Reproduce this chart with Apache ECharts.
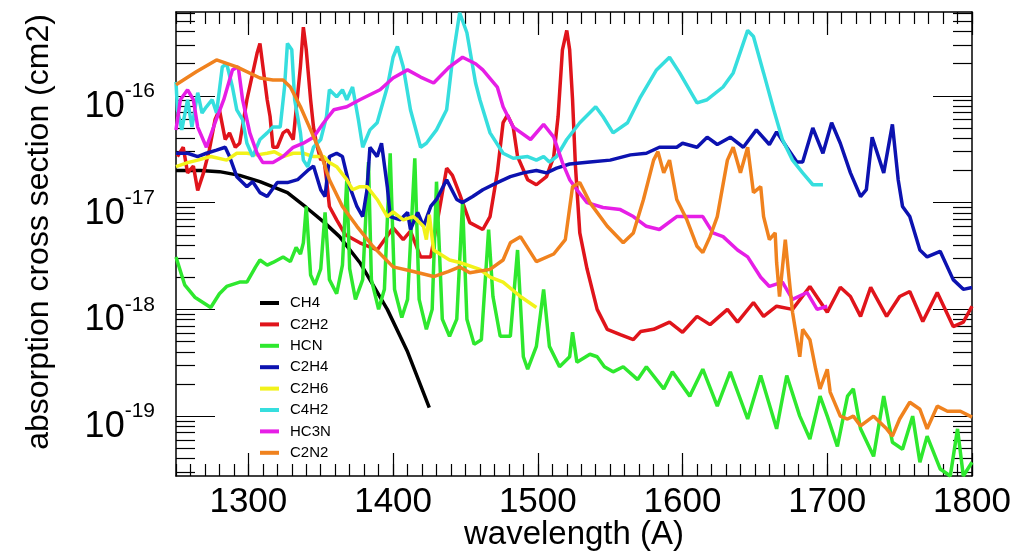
<!DOCTYPE html>
<html>
<head>
<meta charset="utf-8">
<script src="https://cdn.jsdelivr.net/npm/echarts@6.0.0/dist/echarts.min.js"></script>
<style>
  html, body { margin: 0; padding: 0; background: #fff; }
  #chart { width: 1019px; height: 555px; }
</style>
</head>
<body>
<div id="chart"></div>
<script>
// absorption cross sections, [wavelength (A), sigma (cm2)]
const ch4 = [[1250,2.0e-17],[1267,2.0e-17],[1280,1.95e-17],[1294,1.8e-17],[1308,1.57e-17],[1327,1.24e-17],[1340,9.0e-18],[1352,6.6e-18],[1363,4.8e-18],[1377,2.75e-18],[1396,1.0e-18],[1410,4.0e-19],[1425,1.2e-19]];

const c2h2 = [[1251,2.7e-17],[1255,3.3e-17],[1258,1.9e-17],[1262,2.2e-17],[1265,1.3e-17],[1269,1.9e-17],[1273,3.1e-17],[1277,6.0e-17],[1280,7.4e-17],[1284,3.9e-17],[1287,4.5e-17],[1291,3.3e-17],[1294,3.6e-17],[1299,9.2e-17],[1306,2.5e-16],[1308,3.1e-16],[1310,1.9e-16],[1313,9.2e-17],[1315,6.4e-17],[1317,3.3e-17],[1320,3.3e-17],[1324,4.5e-17],[1327,4.8e-17],[1331,3.9e-17],[1336,1.9e-16],[1338,4.4e-16],[1340,2.7e-16],[1343,9.2e-17],[1345,5.1e-17],[1347,3.6e-17],[1350,2.5e-17],[1352,2.7e-17],[1354,1.64e-17],[1356,9.2e-18],[1361,6.9e-18],[1367,5.0e-18],[1377,4.2e-18],[1389,3.6e-18],[1400,5.8e-18],[1407,4.5e-18],[1412,5.4e-18],[1419,3.1e-18],[1426,3.1e-18],[1432,8.6e-18],[1437,2.1e-17],[1441,1.8e-17],[1446,1.2e-17],[1453,6.5e-18],[1462,5.6e-18],[1467,7.4e-18],[1472,1.9e-17],[1476,5.6e-17],[1479,6.6e-17],[1483,5.1e-17],[1486,2.7e-17],[1493,1.64e-17],[1499,1.47e-17],[1506,1.75e-17],[1511,2.7e-17],[1514,6.4e-17],[1517,2.7e-16],[1520,4.1e-16],[1522,2.7e-16],[1524,9.2e-17],[1526,2.2e-17],[1529,5.2e-18],[1534,2.4e-18],[1541,1.0e-18],[1548,6.5e-19],[1557,5.8e-19],[1566,5.2e-19],[1571,6.2e-19],[1580,6.5e-19],[1591,7.6e-19],[1600,6.1e-19],[1610,8.6e-19],[1619,7.2e-19],[1631,1.0e-18],[1638,7.6e-19],[1649,1.16e-18],[1656,8.6e-19],[1665,1.07e-18],[1676,1.0e-18],[1688,1.64e-18],[1700,9.4e-19],[1709,1.61e-18],[1716,1.32e-18],[1723,8.6e-19],[1730,1.61e-18],[1741,8.6e-19],[1750,1.32e-18],[1757,1.47e-18],[1766,7.7e-19],[1776,1.44e-18],[1787,6.9e-19],[1794,7.6e-19],[1800,1.07e-18]];

const hcn = [[1250,3.1e-18],[1256,1.7e-18],[1263,1.3e-18],[1274,1.04e-18],[1280,1.4e-18],[1285,1.64e-18],[1294,1.8e-18],[1299,1.8e-18],[1305,2.5e-18],[1308,2.9e-18],[1313,2.6e-18],[1317,2.75e-18],[1324,3.1e-18],[1329,2.8e-18],[1333,3.8e-18],[1336,3.3e-18],[1338,4.2e-18],[1340,9.2e-18],[1343,2.1e-18],[1346,1.7e-18],[1350,2.4e-18],[1353,8.1e-18],[1356,1.9e-18],[1361,1.4e-18],[1365,2.6e-18],[1368,1.64e-17],[1370,2.4e-18],[1374,1.24e-18],[1379,1.9e-18],[1383,2.4e-17],[1385,1.9e-18],[1390,1.0e-18],[1394,1.54e-18],[1398,2.9e-17],[1401,1.54e-18],[1406,8.4e-19],[1410,1.24e-18],[1415,2.6e-17],[1418,1.24e-18],[1423,6.5e-19],[1427,1.0e-18],[1430,1.57e-17],[1434,8.1e-19],[1439,5.6e-19],[1444,8.1e-19],[1448,1.0e-17],[1451,8.1e-19],[1456,4.7e-19],[1461,5.2e-19],[1466,5.6e-18],[1469,1.32e-18],[1474,5.6e-19],[1481,5.6e-19],[1486,3.6e-18],[1490,3.6e-19],[1493,2.75e-19],[1499,4.5e-19],[1504,1.54e-18],[1508,4.5e-19],[1515,2.9e-19],[1522,3.6e-19],[1524,6.1e-19],[1527,3.2e-19],[1536,3.8e-19],[1541,3.6e-19],[1546,2.9e-19],[1552,2.6e-19],[1559,2.9e-19],[1569,2.2e-19],[1575,2.9e-19],[1587,1.8e-19],[1593,2.6e-19],[1605,1.54e-19],[1614,2.75e-19],[1624,1.24e-19],[1633,2.6e-19],[1645,9.4e-20],[1654,2.4e-19],[1665,7.6e-20],[1672,2.4e-19],[1681,1.0e-19],[1688,6.1e-20],[1695,1.54e-19],[1700,1.0e-19],[1707,5.2e-20],[1714,1.54e-19],[1718,1.8e-19],[1723,7.6e-20],[1732,4.2e-20],[1739,1.54e-19],[1745,5.7e-20],[1752,4.9e-20],[1759,1.0e-19],[1764,3.7e-20],[1769,6.5e-20],[1778,3.2e-20],[1785,2.75e-20],[1790,7.6e-20],[1794,2.75e-20],[1800,3.7e-20]];

const c2h4 = [[1250,2.9e-17],[1258,2.9e-17],[1265,2.7e-17],[1271,2.9e-17],[1278,3.1e-17],[1284,3.3e-17],[1287,2.7e-17],[1292,1.75e-17],[1299,1.41e-17],[1303,1.57e-17],[1308,1.24e-17],[1313,1.14e-17],[1320,1.54e-17],[1327,1.54e-17],[1334,1.64e-17],[1341,2.0e-17],[1345,2.2e-17],[1350,1.32e-17],[1353,1.14e-17],[1356,2.7e-17],[1361,2.9e-17],[1365,2.7e-17],[1370,1.41e-17],[1375,9.2e-18],[1379,7.4e-18],[1382,1.32e-17],[1384,3.3e-17],[1389,2.7e-17],[1392,3.6e-17],[1396,1.41e-17],[1398,7.4e-18],[1405,6.9e-18],[1410,8.1e-18],[1412,5.6e-18],[1417,8.1e-18],[1421,6.0e-18],[1426,9.2e-18],[1430,1.07e-17],[1437,1.64e-17],[1444,1.07e-17],[1448,1.0e-17],[1455,1.14e-17],[1462,1.32e-17],[1472,1.54e-17],[1481,1.75e-17],[1490,1.9e-17],[1499,2.0e-17],[1506,1.9e-17],[1513,2.1e-17],[1522,2.3e-17],[1536,2.4e-17],[1550,2.5e-17],[1564,2.8e-17],[1575,2.9e-17],[1584,3.3e-17],[1596,3.3e-17],[1600,3.6e-17],[1610,3.3e-17],[1617,4.1e-17],[1624,3.5e-17],[1633,4.1e-17],[1642,3.3e-17],[1651,4.8e-17],[1660,3.5e-17],[1665,4.6e-17],[1672,3.3e-17],[1679,2.4e-17],[1683,2.4e-17],[1690,5.0e-17],[1697,2.9e-17],[1703,5.6e-17],[1709,3.6e-17],[1716,1.9e-17],[1723,1.14e-17],[1727,1.32e-17],[1731,4.1e-17],[1739,1.9e-17],[1745,5.4e-17],[1749,1.64e-17],[1752,9.2e-18],[1757,7.4e-18],[1764,3.6e-18],[1769,3.1e-18],[1778,3.5e-18],[1787,1.9e-18],[1794,1.54e-18],[1800,1.6e-18]];

const c2h6 = [[1250,2.17e-17],[1258,2.37e-17],[1265,2.5e-17],[1274,2.7e-17],[1285,2.5e-17],[1292,2.9e-17],[1299,2.9e-17],[1306,2.8e-17],[1313,2.9e-17],[1318,3.0e-17],[1324,2.7e-17],[1331,2.9e-17],[1338,2.9e-17],[1345,2.7e-17],[1352,2.7e-17],[1356,2.37e-17],[1361,2.17e-17],[1368,1.64e-17],[1372,1.32e-17],[1377,1.41e-17],[1382,1.41e-17],[1389,1.07e-17],[1396,7.4e-18],[1400,8.2e-18],[1407,6.9e-18],[1414,7.4e-18],[1421,6.0e-18],[1423,4.5e-18],[1425,7.7e-18],[1428,3.6e-18],[1439,2.9e-18],[1446,2.75e-18],[1460,2.37e-18],[1467,2.0e-18],[1476,1.8e-18],[1488,1.32e-18],[1499,1.04e-18]];

const c4h2 = [[1250,1.35e-16],[1251,7.4e-17],[1254,4.8e-17],[1258,9.2e-17],[1261,5.1e-17],[1265,1.07e-16],[1268,6.9e-17],[1271,7.9e-17],[1275,9.2e-17],[1278,6.9e-17],[1282,1.87e-16],[1285,2.0e-16],[1289,1.21e-16],[1292,7.4e-17],[1296,6.0e-17],[1299,3.6e-17],[1303,2.7e-17],[1308,3.9e-17],[1313,4.5e-17],[1317,5.1e-17],[1322,5.1e-17],[1325,1.21e-16],[1327,3.1e-16],[1330,2.7e-16],[1332,9.2e-17],[1336,4.5e-17],[1338,2.5e-17],[1341,2.17e-17],[1345,3.3e-17],[1350,3.9e-17],[1354,6.4e-17],[1356,1.14e-16],[1361,9.8e-17],[1365,1.14e-16],[1368,9.2e-17],[1372,1.21e-16],[1376,6.0e-17],[1379,3.3e-17],[1384,4.8e-17],[1389,5.6e-17],[1396,1.21e-16],[1400,2.3e-16],[1403,2.9e-16],[1407,1.87e-16],[1412,7.4e-17],[1419,3.3e-17],[1423,3.6e-17],[1430,4.8e-17],[1437,7.4e-17],[1441,2.17e-16],[1446,6.0e-16],[1451,3.9e-16],[1457,1.32e-16],[1460,9.2e-17],[1467,4.5e-17],[1476,2.9e-17],[1483,2.6e-17],[1493,2.7e-17],[1499,2.5e-17],[1504,2.7e-17],[1508,2.4e-17],[1513,2.7e-17],[1520,3.9e-17],[1529,5.6e-17],[1540,7.9e-17],[1545,6.4e-17],[1552,4.5e-17],[1562,5.6e-17],[1571,9.8e-17],[1582,1.75e-16],[1591,2.3e-16],[1598,1.64e-16],[1610,8.6e-17],[1617,9.2e-17],[1628,1.21e-16],[1635,1.64e-16],[1645,4.1e-16],[1649,3.6e-16],[1656,1.64e-16],[1663,7.4e-17],[1669,3.9e-17],[1676,2.5e-17],[1683,1.9e-17],[1690,1.47e-17],[1697,1.47e-17]];

const hc3n = [[1250,4.8e-17],[1253,9.2e-17],[1258,1.14e-16],[1262,9.2e-17],[1265,5.1e-17],[1271,3.3e-17],[1277,5.6e-17],[1283,9.2e-17],[1289,1.75e-16],[1293,1.87e-16],[1296,9.2e-17],[1301,4.5e-17],[1306,2.9e-17],[1310,2.37e-17],[1317,2.37e-17],[1324,2.7e-17],[1331,3.3e-17],[1338,3.6e-17],[1345,4.1e-17],[1352,5.6e-17],[1359,7.4e-17],[1368,7.9e-17],[1377,9.2e-17],[1391,1.14e-16],[1400,1.47e-16],[1410,1.75e-16],[1419,1.5e-16],[1428,1.32e-16],[1439,1.87e-16],[1448,2.3e-16],[1457,2.0e-16],[1462,1.75e-16],[1472,1.21e-16],[1476,7.9e-17],[1483,5.1e-17],[1495,3.9e-17],[1504,5.4e-17],[1511,4.1e-17],[1517,2.37e-17],[1522,1.64e-17],[1527,1.32e-17],[1534,1.0e-17],[1545,9.0e-18],[1557,8.6e-18],[1566,7.4e-18],[1575,6.0e-18],[1584,5.6e-18],[1596,7.4e-18],[1605,7.4e-18],[1614,7.4e-18],[1621,5.2e-18],[1628,4.8e-18],[1638,3.6e-18],[1645,3.1e-18],[1654,2.0e-18],[1660,1.64e-18],[1669,1.8e-18],[1676,1.24e-18],[1686,1.44e-18],[1693,1.0e-18],[1700,1.07e-18]];

const c2n2 = [[1250,1.27e-16],[1264,1.68e-16],[1278,2.17e-16],[1292,1.87e-16],[1308,1.47e-16],[1317,1.41e-16],[1324,1.41e-16],[1329,1.21e-16],[1336,7.9e-17],[1343,4.8e-17],[1350,2.9e-17],[1356,1.64e-17],[1365,9.2e-18],[1375,6.0e-18],[1386,3.9e-18],[1400,2.5e-18],[1414,2.26e-18],[1428,2.03e-18],[1438,2.26e-18],[1446,2.5e-18],[1453,2.2e-18],[1467,2.37e-18],[1476,2.9e-18],[1481,4.2e-18],[1488,4.8e-18],[1499,2.8e-18],[1511,3.3e-18],[1519,4.5e-18],[1524,1.41e-17],[1529,1.54e-17],[1536,1.0e-17],[1548,6.0e-18],[1559,4.2e-18],[1566,5.2e-18],[1573,1.07e-17],[1580,2.5e-17],[1583,3.0e-17],[1587,1.9e-17],[1591,2.5e-17],[1596,1.07e-17],[1603,6.9e-18],[1610,3.9e-18],[1614,3.4e-18],[1619,4.8e-18],[1624,7.4e-18],[1631,2.5e-17],[1635,3.3e-17],[1640,1.9e-17],[1645,3.3e-17],[1649,1.24e-17],[1654,1.41e-17],[1656,7.4e-18],[1660,4.5e-18],[1664,5.2e-18],[1665,2.75e-18],[1667,1.32e-18],[1671,4.5e-18],[1673,2.37e-18],[1676,9.4e-19],[1681,3.6e-19],[1683,6.5e-19],[1688,5.2e-19],[1692,2.75e-19],[1695,1.8e-19],[1700,2.75e-19],[1702,1.68e-19],[1709,1.0e-19],[1714,9.4e-20],[1718,1.0e-19],[1723,8.1e-20],[1732,1.0e-19],[1741,7.6e-20],[1745,6.5e-20],[1750,9.4e-20],[1757,1.35e-19],[1764,1.16e-19],[1769,7.6e-20],[1776,1.24e-19],[1783,1.11e-19],[1792,1.11e-19],[1800,9.8e-20]];

const names = ['CH4', 'C2H2', 'HCN', 'C2H4', 'C2H6', 'C4H2', 'HC3N', 'C2N2'];
const colors = ['#000000', '#e0141b', '#2ee82e', '#0c12b0', '#f2f21a', '#36dede', '#e61ee6', '#f0821e'];
const allData = [ch4, c2h2, hcn, c2h4, c2h6, c4h2, hc3n, c2n2];

// axis ticks
const xMajor = [1300, 1400, 1500, 1600, 1700, 1800];
const yMajor = [1e-19, 1e-18, 1e-17, 1e-16];
const yMinor = [3e-20, 4e-20, 5e-20, 6e-20, 7e-20, 8e-20, 9e-20,
  2e-19, 3e-19, 4e-19, 5e-19, 6e-19, 7e-19, 8e-19, 9e-19,
  2e-18, 3e-18, 4e-18, 5e-18, 6e-18, 7e-18, 8e-18, 9e-18,
  2e-17, 3e-17, 4e-17, 5e-17, 6e-17, 7e-17, 8e-17, 9e-17,
  2e-16, 3e-16, 4e-16, 5e-16, 6e-16];
const yMin = 2.75e-20;
const yMax = 6.1e-16;

const font = 'Liberation Sans, Arial, sans-serif';
const tickLine = { color: '#000', width: 1.2 };
const frame = { show: true, onZero: false, lineStyle: { color: '#000', width: 1.5 } };

const chart = echarts.init(document.getElementById('chart'));

function xAx(position, major, labels) {
  const ax = {
    type: 'value', position: position, min: 1250, max: 1800,
    splitLine: { show: false },
    axisLine: major ? { show: false } : frame,
    axisTick: { inside: true, length: major ? 23 : 12, lineStyle: tickLine },
    axisLabel: { show: false }
  };
  if (major) ax.axisTick.customValues = xMajor;
  else ax.interval = 10;
  if (labels) {
    ax.axisLabel = {
      show: true, customValues: xMajor, fontSize: 35, color: '#000', fontFamily: font, margin: 9,
      formatter: v => String(v)
    };
    ax.name = 'wavelength (A)';
    ax.nameLocation = 'middle';
    ax.nameGap = 42;
    ax.nameMoveOverlap = false;
    ax.nameTextStyle = { fontSize: 33, color: '#000', fontFamily: font, verticalAlign: 'top' };
  }
  return ax;
}

function yAx(position, major, labels) {
  const ax = {
    type: 'log', logBase: 10, position: position, min: yMin, max: yMax,
    splitLine: { show: false },
    axisLine: major ? frame : { show: false },
    axisTick: { inside: true, length: major ? 39 : 19, customValues: major ? yMajor : yMinor, lineStyle: tickLine },
    axisLabel: { show: false }
  };
  if (labels) {
    ax.axisLabel = {
      show: true, customValues: yMajor, margin: 21, padding: [14, 0, 0, 0],
      formatter: v => '{b|10}{s|' + Math.round(Math.log10(v)) + '}',
      rich: {
        b: { fontSize: 36, lineHeight: 44, verticalAlign: 'bottom', color: '#000', fontFamily: font },
        s: { fontSize: 21, lineHeight: 16, verticalAlign: 'top', color: '#000', fontFamily: font }
      }
    };
    ax.name = 'absorption cross section (cm2)';
    ax.nameLocation = 'middle';
    ax.nameGap = 121;
    ax.nameRotate = 90;
    ax.nameMoveOverlap = false;
    ax.nameTextStyle = { fontSize: 32, color: '#000', fontFamily: font, padding: [0, 0, 0, 24] };
  }
  return ax;
}

const options = {
  animation: false,
  backgroundColor: '#fff',
  grid: { left: 176, top: 12, width: 796, height: 464, outerBoundsMode: 'none' },
  xAxis: [xAx('bottom', false, false), xAx('bottom', true, true), xAx('top', false, false), xAx('top', true, false)],
  yAxis: [yAx('left', true, true), yAx('left', false, false), yAx('right', true, false), yAx('right', false, false)],
  legend: {
    orient: 'vertical', left: 260, top: 295, padding: 0,
    icon: 'rect', itemWidth: 19, itemHeight: 4, itemGap: 5.4,
    textStyle: { fontSize: 15, lineHeight: 16, color: '#000', fontFamily: font, padding: [0, 0, 0, 6] },
    data: names
  },
  series: names.map((n, i) => ({
    name: n,
    type: 'line',
    data: allData[i],
    symbol: 'none',
    showSymbol: false,
    color: colors[i],
    lineStyle: { width: 3.5, color: colors[i] },
    z: 2 + i
  }))
};

chart.setOption(options);
</script>
</body>
</html>
